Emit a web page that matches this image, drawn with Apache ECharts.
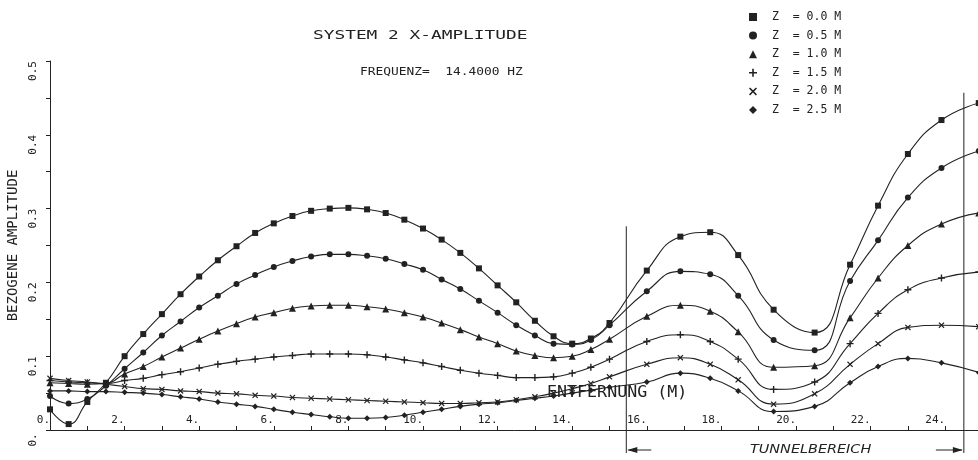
<!DOCTYPE html>
<html>
<head>
<meta charset="utf-8">
<title>System 2 X-Amplitude</title>
<script src="https://cdn.jsdelivr.net/npm/echarts@6/dist/echarts.min.js"></script>
<style>
  html, body { margin: 0; padding: 0; background: #fff; }
  #chart { width: 978px; height: 460px; }
</style>
</head>
<body>
<div id="chart"></div>
<script>
// distance along the line (m)
const distance = [
    0, 0.5, 1, 1.5, 2, 2.5, 3, 3.5, 4, 4.5,
    5, 5.5, 6, 6.5, 7, 7.5, 8, 8.5, 9, 9.5,
    10, 10.5, 11, 11.5, 12, 12.5, 13, 13.5, 14, 14.5, 15,
    16, 16.9, 17.7, 18.45, 19.4, 20.5, 21.45, 22.2, 23, 23.9, 24.9
];

const zLabels = ['Z  = 0.0 M', 'Z  = 0.5 M', 'Z  = 1.0 M', 'Z  = 1.5 M', 'Z  = 2.0 M', 'Z  = 2.5 M'];

const z00 = [0.028, 0.008, 0.038, 0.064, 0.100, 0.130, 0.157, 0.184, 0.208, 0.230,
    0.249, 0.267, 0.280, 0.290, 0.297, 0.300, 0.301, 0.299, 0.294, 0.285,
    0.273, 0.258, 0.240, 0.219, 0.196, 0.173, 0.148, 0.127, 0.117, 0.124, 0.145,
    0.216, 0.262, 0.268, 0.237, 0.163, 0.132, 0.224, 0.304, 0.374, 0.420, 0.443];

const z05 = [0.046, 0.036, 0.042, 0.060, 0.083, 0.105, 0.128, 0.147, 0.166, 0.182,
    0.198, 0.210, 0.221, 0.229, 0.235, 0.238, 0.238, 0.236, 0.232, 0.225,
    0.217, 0.204, 0.191, 0.175, 0.159, 0.142, 0.128, 0.117, 0.116, 0.122, 0.142,
    0.188, 0.215, 0.211, 0.182, 0.122, 0.108, 0.202, 0.257, 0.315, 0.355, 0.378];

const z10 = [0.064, 0.063, 0.062, 0.063, 0.076, 0.086, 0.099, 0.111, 0.123, 0.134,
    0.144, 0.153, 0.159, 0.165, 0.168, 0.169, 0.169, 0.167, 0.164, 0.159,
    0.153, 0.145, 0.136, 0.126, 0.117, 0.107, 0.101, 0.098, 0.100, 0.109, 0.123,
    0.154, 0.169, 0.161, 0.133, 0.085, 0.087, 0.152, 0.206, 0.250, 0.279, 0.294];

const z15 = [0.067, 0.065, 0.064, 0.063, 0.067, 0.070, 0.075, 0.079, 0.084, 0.089,
    0.093, 0.096, 0.099, 0.101, 0.103, 0.103, 0.103, 0.102, 0.099, 0.095,
    0.091, 0.086, 0.081, 0.077, 0.074, 0.071, 0.071, 0.072, 0.077, 0.085, 0.096,
    0.120, 0.129, 0.120, 0.096, 0.055, 0.065, 0.117, 0.158, 0.190, 0.206, 0.214];

const z20 = [0.070, 0.067, 0.065, 0.062, 0.059, 0.056, 0.055, 0.053, 0.052, 0.050,
    0.049, 0.047, 0.046, 0.044, 0.043, 0.042, 0.041, 0.040, 0.039, 0.038,
    0.037, 0.036, 0.036, 0.037, 0.038, 0.041, 0.045, 0.050, 0.056, 0.063, 0.072,
    0.089, 0.098, 0.089, 0.068, 0.035, 0.049, 0.089, 0.117, 0.139, 0.142, 0.140];

const z25 = [0.053, 0.053, 0.052, 0.052, 0.051, 0.050, 0.048, 0.045, 0.042, 0.038,
    0.035, 0.032, 0.028, 0.024, 0.021, 0.018, 0.016, 0.016, 0.017, 0.020,
    0.024, 0.028, 0.032, 0.035, 0.037, 0.040, 0.043, 0.046, 0.050, 0.054, 0.058,
    0.065, 0.077, 0.070, 0.053, 0.025, 0.032, 0.064, 0.086, 0.097, 0.091, 0.078];

// tunnel zone boundaries (m)
const tunnelFrom = 15.45;
const tunnelTo = 24.5;


const INK = '#222';
const MONO = '"DejaVu Sans Mono", "Liberation Mono", monospace';
const PLUS = 'path://M4,0h2v4h4v2h-4v4h-2v-4h-4v-2h4z';
const CROSS = 'path://M1.4,0L5,3.6L8.6,0L10,1.4L6.4,5L10,8.6L8.6,10L5,6.4L1.4,10L0,8.6L3.6,5L0,1.4z';

const valueSets = [z00, z05, z10, z15, z20, z25];
const markerShapes = ['rect', 'circle', 'triangle', PLUS, CROSS, 'diamond'];
const markerSizes = [6, 6, 7, 7, 6, 6];

var chart = echarts.init(document.getElementById('chart'));

var option = {
    animation: false,
    backgroundColor: '#fff',
    textStyle: { fontFamily: MONO, color: INK },
    grid: {
        left: 50,
        top: 61,
        right: -4.5,
        bottom: 30,
        containLabel: false,
        outerBoundsMode: 'none'
    },
    legend: {
        orient: 'vertical',
        left: 744,
        top: 6,
        itemWidth: 8,
        itemHeight: 8,
        itemGap: 6.6,
        selectedMode: false,
        textStyle: { fontFamily: MONO, fontSize: 11.5, color: INK, padding: [0, 0, 0, 10] },
        data: zLabels.map((name, k) => ({ name: name, icon: markerShapes[k] }))
    },
    xAxis: {
        type: 'value',
        min: 0,
        max: 25,
        interval: 1,
        splitLine: { show: false },
        axisLine: { lineStyle: { color: INK, width: 1 } },
        axisTick: { inside: true, length: 4, lineStyle: { color: INK } },
        axisLabel: {
            inside: true,
            align: 'right',
            margin: 4,
            fontSize: 11,
            color: INK,
            formatter: v => (v % 2 === 0 && v <= 24) ? v + '.' : ''
        }
    },
    yAxis: {
        type: 'value',
        min: 0,
        max: 0.5,
        interval: 0.05,
        name: 'BEZOGENE AMPLITUDE',
        nameLocation: 'middle',
        nameRotate: 90,
        nameGap: 25,
        nameTextStyle: { fontFamily: MONO, fontSize: 14, color: INK },
        splitLine: { show: false },
        axisLine: { show: true, lineStyle: { color: INK, width: 1 } },
        axisTick: { show: true, length: 4, lineStyle: { color: INK } },
        axisLabel: {
            rotate: 90,
            margin: 11,
            fontSize: 11,
            color: INK,
            padding: [0, 20, 0, 0],
            formatter: v => {
                const k = Math.round(v * 20);
                if (k % 2 !== 0) return '';
                return k === 0 ? '0.' : (k / 20).toFixed(1);
            }
        }
    },
    series: zLabels.map((name, k) => ({
        name: name,
        type: 'line',
        smooth: 0.5,
        symbol: markerShapes[k],
        symbolSize: markerSizes[k],
        showAllSymbol: true,
        lineStyle: { color: INK, width: 1.1 },
        itemStyle: { color: INK },
        data: distance.map((d, i) => [d, valueSets[k][i]])
    }))
};

chart.setOption(option);


// texts and the tunnel-zone markings
function drawAnnotations() {
    const base = chart.convertToPixel({ gridIndex: 0 }, [0, 0]);
    const a = chart.convertToPixel({ gridIndex: 0 }, [tunnelFrom, 0.276]);
    const b = chart.convertToPixel({ gridIndex: 0 }, [tunnelTo, 0.457]);
    const bottom = base[1] + 23;
    const ay = base[1] + 20;

    const text = (str, x, y, font, sx) => ({
        type: 'text',
        x: x,
        y: y,
        scaleX: sx,
        silent: true,
        style: {
            text: str,
            font: font,
            fill: INK,
            textAlign: 'left',
            align: 'left',
            textVerticalAlign: 'middle',
            verticalAlign: 'middle'
        }
    });
    const seg = (x1, y1, x2, y2) => ({
        type: 'line',
        silent: true,
        shape: { x1: x1, y1: y1, x2: x2, y2: y2 },
        style: { stroke: INK, lineWidth: 1 }
    });
    const head = (pts) => ({
        type: 'polygon',
        silent: true,
        shape: { points: pts },
        style: { fill: INK }
    });

    chart.setOption({
        graphic: [
            text('SYSTEM 2 X-AMPLITUDE', 313, 36, '13px ' + MONO, 1.37),
            text('FREQUENZ=  14.4000 HZ', 360, 72, '11px ' + MONO, 1.17),
            text('ENTFERNUNG (M)', 547, 393, '15px ' + MONO, 1.11),
            text('TUNNELBEREICH', 750, 450, 'italic 12px "DejaVu Sans", sans-serif', 1.2),
            seg(a[0], a[1], a[0], bottom),
            seg(b[0], b[1], b[0], bottom),
            seg(a[0] + 2, ay, a[0] + 25, ay),
            head([[a[0] + 1, ay], [a[0] + 11, ay - 3], [a[0] + 11, ay + 3]]),
            seg(b[0] - 28, ay, b[0] - 2, ay),
            head([[b[0] - 1, ay], [b[0] - 11, ay - 3], [b[0] - 11, ay + 3]])
        ]
    });
}

drawAnnotations();
</script>
</body>
</html>
